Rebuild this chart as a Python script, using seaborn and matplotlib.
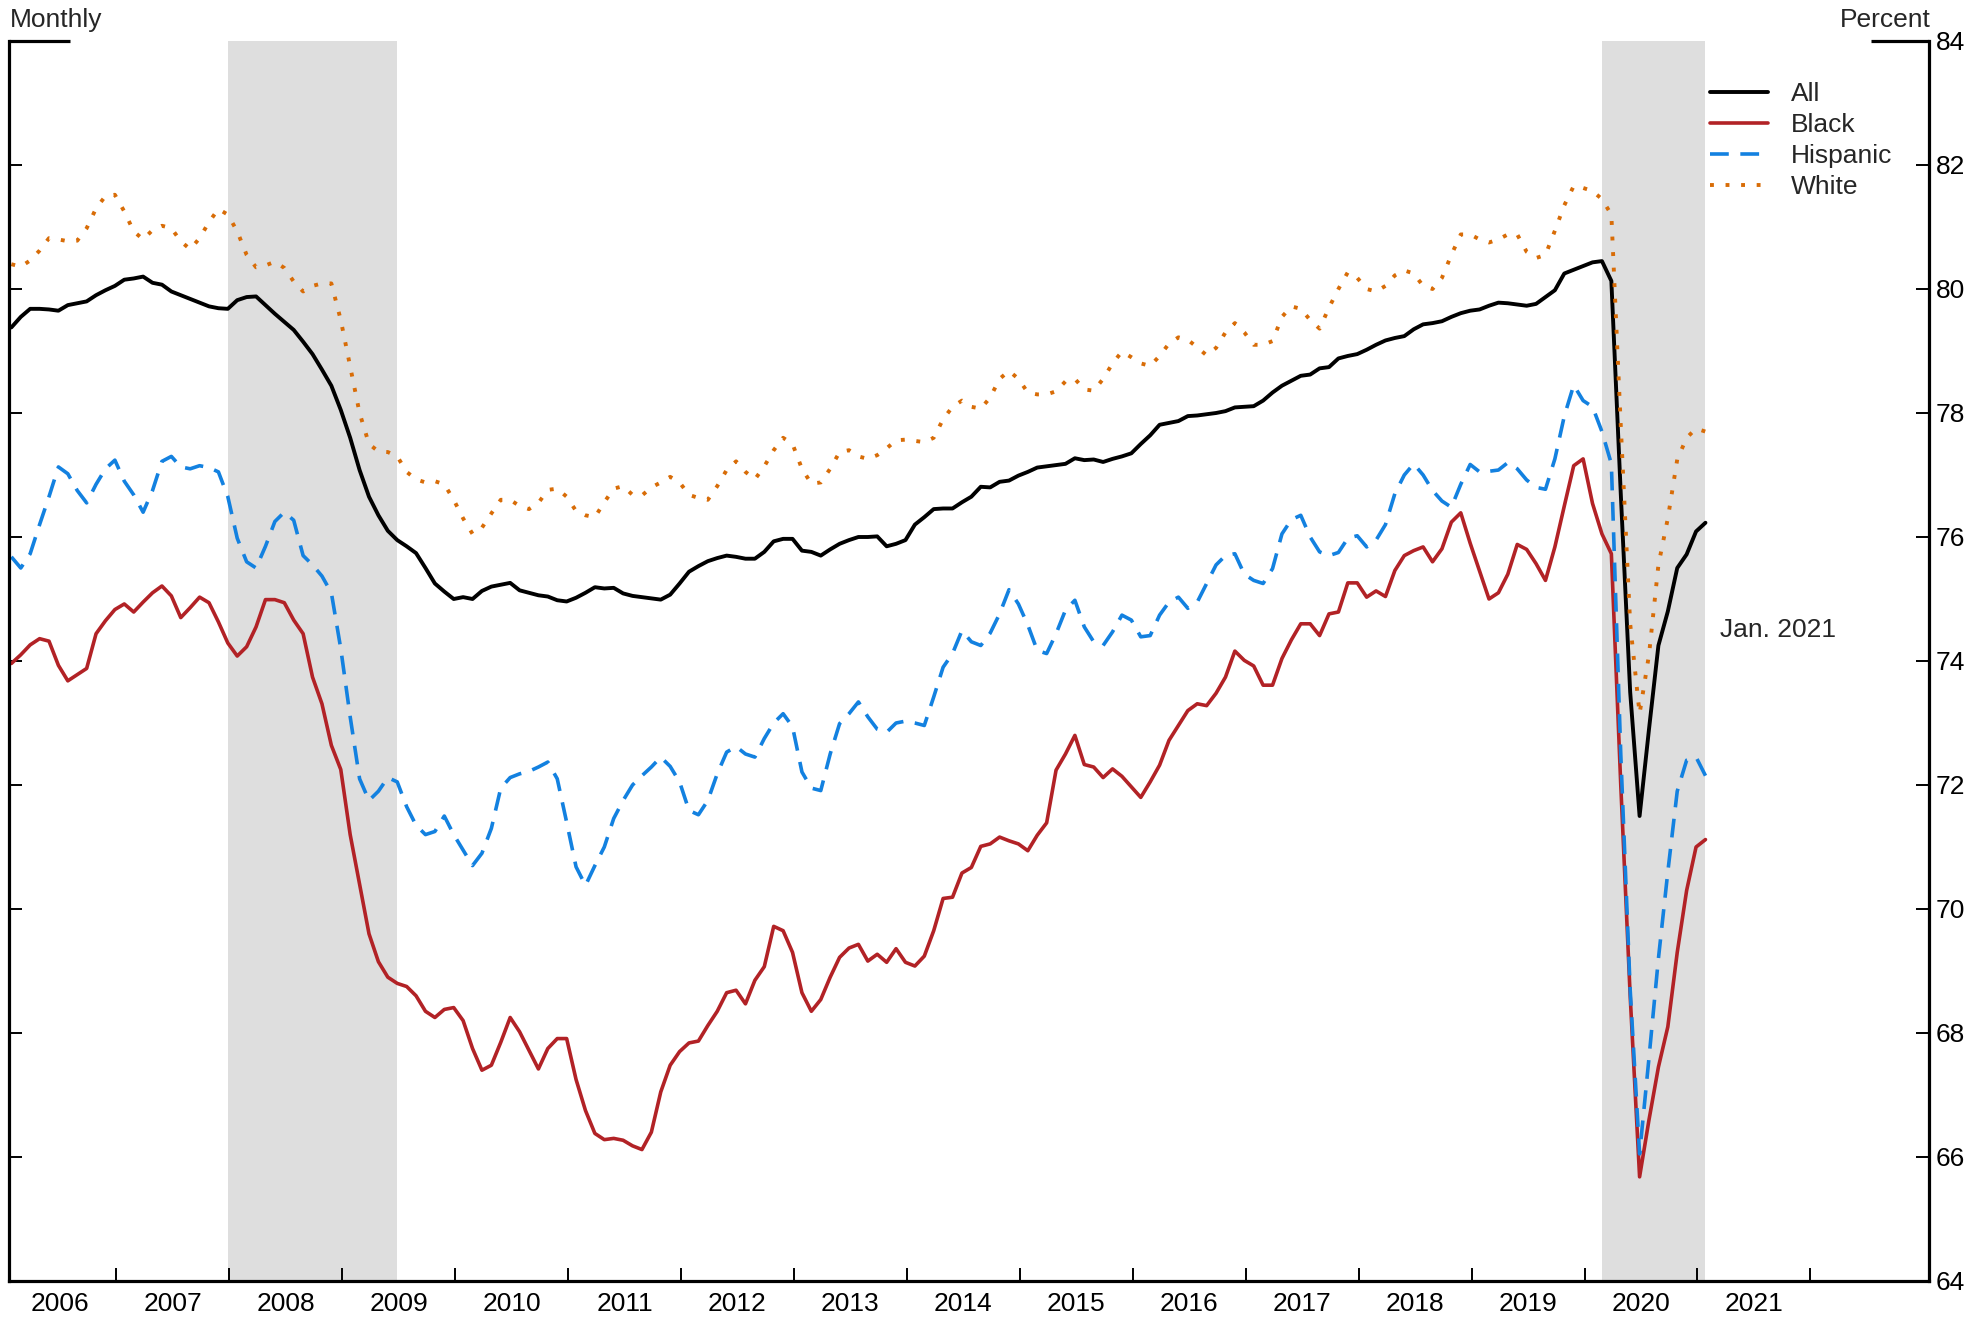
import pandas as pd
import seaborn as sns
import matplotlib.pyplot as plt

sns.set_theme(style="white")
plt.rcParams['font.family'] = ['Liberation Sans', 'DejaVu Sans']

# prime-age employment-to-population ratios, monthly, Jan 2006 - Jan 2021 (percent)
all_workers = [
    79.38, 79.55, 79.68, 79.68, 79.67, 79.65, 79.74, 79.77, 79.80, 79.90, 79.98, 80.05,  # 2006
    80.15, 80.17, 80.20, 80.10, 80.07, 79.96, 79.90, 79.84, 79.78, 79.72, 79.69, 79.68,  # 2007
    79.82, 79.87, 79.88, 79.74, 79.60, 79.47, 79.34, 79.15, 78.95, 78.70, 78.44, 78.05,  # 2008
    77.60, 77.08, 76.65, 76.35, 76.10, 75.95, 75.85, 75.74, 75.50, 75.25, 75.12, 75.00,  # 2009
    75.03, 75.00, 75.13, 75.20, 75.23, 75.26, 75.14, 75.10, 75.06, 75.04, 74.98, 74.96,  # 2010
    75.02, 75.10, 75.19, 75.17, 75.18, 75.09, 75.05, 75.03, 75.01, 74.99, 75.07, 75.25,  # 2011
    75.44, 75.53, 75.61, 75.66, 75.70, 75.68, 75.65, 75.65, 75.76, 75.93, 75.97, 75.97,  # 2012
    75.78, 75.76, 75.70, 75.80, 75.89, 75.95, 76.00, 76.00, 76.01, 75.85, 75.89, 75.95,  # 2013
    76.20, 76.32, 76.45, 76.46, 76.46, 76.56, 76.65, 76.81, 76.80, 76.89, 76.91, 76.99,  # 2014
    77.05, 77.12, 77.14, 77.16, 77.18, 77.27, 77.24, 77.25, 77.21, 77.26, 77.30, 77.35,  # 2015
    77.50, 77.64, 77.81, 77.84, 77.87, 77.95, 77.96, 77.98, 78.00, 78.03, 78.09, 78.10,  # 2016
    78.11, 78.20, 78.33, 78.44, 78.52, 78.60, 78.62, 78.72, 78.74, 78.88, 78.92, 78.95,  # 2017
    79.02, 79.10, 79.17, 79.21, 79.24, 79.35, 79.43, 79.45, 79.48, 79.55, 79.61, 79.65,  # 2018
    79.67, 79.73, 79.78, 79.77, 79.75, 79.73, 79.76, 79.87, 79.98, 80.25, 80.31, 80.37,  # 2019
    80.43, 80.45, 80.13, 76.70, 73.50, 71.50, 72.90, 74.25, 74.80, 75.50, 75.72, 76.09,  # 2020
    76.23,
]
black = [
    73.96, 74.10, 74.26, 74.36, 74.32, 73.93, 73.68, 73.78, 73.88, 74.44, 74.65, 74.83,
    74.92, 74.79, 74.95, 75.10, 75.21, 75.05, 74.70, 74.86, 75.03, 74.94, 74.63, 74.29,
    74.08, 74.23, 74.55, 74.99, 74.99, 74.94, 74.66, 74.44, 73.74, 73.31, 72.64, 72.25,
    71.20, 70.40, 69.60, 69.15, 68.90, 68.80, 68.75, 68.60, 68.35, 68.25, 68.38, 68.41,
    68.20, 67.75, 67.40, 67.48, 67.85, 68.25, 68.02, 67.72, 67.42, 67.75, 67.91, 67.91,
    67.25, 66.75, 66.38, 66.28, 66.30, 66.27, 66.18, 66.12, 66.40, 67.05, 67.48, 67.70,
    67.84, 67.87, 68.12, 68.35, 68.65, 68.69, 68.47, 68.85, 69.07, 69.72, 69.65, 69.30,
    68.65, 68.35, 68.54, 68.90, 69.22, 69.37, 69.43, 69.16, 69.27, 69.14, 69.36, 69.14,
    69.08, 69.24, 69.65, 70.17, 70.19, 70.58, 70.67, 71.01, 71.05, 71.16, 71.10, 71.05,
    70.94, 71.19, 71.39, 72.24, 72.50, 72.80, 72.33, 72.29, 72.12, 72.26, 72.14, 71.97,
    71.80, 72.05, 72.32, 72.72, 72.96, 73.20, 73.31, 73.28, 73.48, 73.74, 74.16, 74.01,
    73.92, 73.61, 73.61, 74.04, 74.34, 74.60, 74.60, 74.41, 74.76, 74.79, 75.26, 75.26,
    75.03, 75.13, 75.04, 75.46, 75.70, 75.78, 75.84, 75.60, 75.81, 76.24, 76.39, 75.90,
    75.45, 75.00, 75.10, 75.40, 75.88, 75.80, 75.57, 75.30, 75.84, 76.50, 77.15, 77.26,
    76.54, 76.05, 75.73, 72.00, 68.60, 65.68, 66.60, 67.45, 68.10, 69.30, 70.30, 71.00,
    71.12,
]
hispanic = [
    75.68, 75.50, 75.73, 76.20, 76.65, 77.13, 77.02, 76.75, 76.55, 76.85, 77.10, 77.24,
    76.90, 76.68, 76.40, 76.75, 77.22, 77.30, 77.13, 77.10, 77.15, 77.12, 77.05, 76.65,
    75.98, 75.60, 75.50, 75.85, 76.25, 76.40, 76.27, 75.70, 75.55, 75.37, 75.10, 74.20,
    73.10, 72.10, 71.75, 71.90, 72.12, 72.05, 71.65, 71.35, 71.20, 71.25, 71.50, 71.20,
    70.95, 70.70, 70.90, 71.30, 71.95, 72.12, 72.18, 72.22, 72.29, 72.37, 72.10, 71.40,
    70.68, 70.38, 70.70, 71.00, 71.46, 71.75, 72.00, 72.15, 72.29, 72.45, 72.30, 72.05,
    71.59, 71.52, 71.75, 72.18, 72.53, 72.62, 72.50, 72.45, 72.75, 73.00, 73.15, 72.94,
    72.21, 71.95, 71.91, 72.50, 72.99, 73.15, 73.34, 73.10, 72.90, 72.85, 73.00, 73.03,
    73.00, 72.96, 73.42, 73.90, 74.12, 74.49, 74.31, 74.25, 74.45, 74.76, 75.15, 74.92,
    74.58, 74.17, 74.12, 74.44, 74.82, 74.98, 74.55, 74.31, 74.25, 74.47, 74.74, 74.66,
    74.39, 74.41, 74.74, 74.95, 75.03, 74.85, 74.95, 75.25, 75.55, 75.70, 75.73, 75.40,
    75.30, 75.25, 75.49, 76.05, 76.28, 76.35, 76.00, 75.76, 75.70, 75.75, 75.98, 76.02,
    75.84, 75.95, 76.20, 76.70, 77.00, 77.18, 77.00, 76.75, 76.58, 76.48, 76.85, 77.17,
    77.05, 77.06, 77.08, 77.20, 77.10, 76.92, 76.80, 76.77, 77.26, 77.95, 78.45, 78.20,
    78.10, 77.70, 77.18, 72.50, 68.70, 66.05, 67.60, 69.20, 70.60, 71.90, 72.40, 72.45,
    72.15,
]
white = [
    80.40, 80.36, 80.46, 80.62, 80.82, 80.80, 80.77, 80.78, 80.98, 81.30, 81.50, 81.52,
    81.25, 80.93, 80.80, 80.95, 81.02, 80.98, 80.77, 80.64, 80.82, 81.08, 81.29, 81.20,
    80.93, 80.55, 80.35, 80.38, 80.44, 80.34, 80.12, 79.96, 80.05, 80.09, 80.09, 79.50,
    78.75, 78.00, 77.50, 77.38, 77.37, 77.30, 77.05, 76.93, 76.88, 76.90, 76.85, 76.60,
    76.30, 76.05, 76.15, 76.38, 76.60, 76.60, 76.50, 76.45, 76.55, 76.76, 76.78, 76.65,
    76.42, 76.35, 76.32, 76.56, 76.78, 76.82, 76.68, 76.67, 76.80, 76.88, 76.97, 76.88,
    76.68, 76.63, 76.60, 76.82, 77.08, 77.22, 77.05, 76.93, 77.14, 77.40, 77.60, 77.50,
    77.10, 76.86, 76.88, 77.10, 77.37, 77.40, 77.30, 77.26, 77.32, 77.43, 77.56, 77.57,
    77.55, 77.53, 77.60, 77.90, 78.10, 78.20, 78.10, 78.07, 78.25, 78.55, 78.68, 78.55,
    78.33, 78.30, 78.30, 78.35, 78.51, 78.55, 78.38, 78.36, 78.55, 78.80, 78.99, 78.90,
    78.80, 78.76, 78.92, 79.12, 79.22, 79.18, 79.06, 78.93, 79.05, 79.30, 79.45, 79.30,
    79.10, 79.10, 79.16, 79.55, 79.72, 79.68, 79.50, 79.36, 79.70, 80.00, 80.27, 80.18,
    80.00, 79.96, 80.05, 80.22, 80.30, 80.25, 80.05, 80.00, 80.18, 80.55, 80.88, 80.88,
    80.80, 80.75, 80.80, 80.88, 80.88, 80.60, 80.50, 80.55, 80.94, 81.35, 81.66, 81.63,
    81.58, 81.45, 81.20, 77.80, 74.60, 73.15, 74.10, 75.55, 76.30, 77.25, 77.60, 77.75,
    77.70,
]

years = list(range(2006, 2022))
y_ticks = list(range(64, 85, 2))

months = pd.date_range("2006-01-01", periods=len(all_workers), freq="MS")
xpos = months.year + (months.month - 1 + 0.25) / 12
df = pd.DataFrame({"x": xpos, "All": all_workers, "Black": black,
                   "Hispanic": hispanic, "White": white})

# NBER recessions: Dec 2007 - Jun 2009, Feb 2020 - end of data
recessions = [(xpos[23], xpos[41]), (xpos[169], xpos[-1])]

fig = plt.figure(figsize=(19.88, 13.17), dpi=100)
ax = fig.add_axes([9 / 1988, 36 / 1317, 1920 / 1988, 1240 / 1317])

for a, b in recessions:
    ax.axvspan(a, b, color="#dedede", lw=0, zorder=0)

styles = {
    "All": dict(color="black", linewidth=2.8, linestyle="-"),
    "Black": dict(color="#b22226", linewidth=2.6, linestyle="-"),
    "Hispanic": dict(color="#1381e0", linewidth=2.6, linestyle=(0, (5.2, 3.2)), dash_capstyle="butt"),
    "White": dict(color="#d86c07", linewidth=2.8, linestyle=(0, (1.0, 3.0)), dash_capstyle="butt"),
}
for name in ["All", "Black", "Hispanic", "White"]:
    sns.lineplot(data=df, x="x", y=name, ax=ax, label=name, **styles[name])

ax.set_xlim(2006, 2023)
ax.set_ylim(64, 84)
ax.set_xlabel("")
ax.set_ylabel("")

# year boundaries as ticks, labels centered in each year
ax.set_xticks([y - 0.05 for y in range(2007, 2023)])
ax.set_xticklabels([])
ax.set_xticks([y + 0.45 for y in years], minor=True)
ax.set_xticklabels([str(y) for y in years], minor=True)
ax.tick_params(axis="x", which="major", direction="in", bottom=True, length=9.4, width=1.4, color="black")
ax.tick_params(axis="x", which="minor", bottom=True, length=0, labelsize=19, pad=8, labelcolor="black")

ax.set_yticks(y_ticks)
ax.tick_params(axis="y", direction="in", left=True, right=True, labelleft=False, labelright=True,
               length=9.4, width=1.4, color="black", labelsize=19, pad=5, labelcolor="black")

ax.spines["top"].set_visible(False)
for side in ["left", "right", "bottom"]:
    ax.spines[side].set_color("black")
    ax.spines[side].set_linewidth(2.3)

# short top brackets under the unit labels
ax.plot([0, 0.032], [1, 1], transform=ax.transAxes, color="black", lw=2.3,
        clip_on=False, solid_capstyle="butt")
ax.plot([0.970, 1], [1, 1], transform=ax.transAxes, color="black", lw=2.3,
        clip_on=False, solid_capstyle="butt")

fig.text(10 / 1988, 1 - 20 / 1317, "Monthly", ha="left", va="center", fontsize=19)
fig.text(1931 / 1988, 1 - 20 / 1317, "Percent", ha="right", va="center", fontsize=19)

ax.text(2021.15, 74.5, "Jan. 2021", ha="left", va="center", fontsize=19)

ax.legend(loc="upper left", bbox_to_anchor=(0.886, 0.967), frameon=False, fontsize=19,
          handlelength=2.2, handletextpad=0.85, labelspacing=0.27, borderpad=0, borderaxespad=0)

fig.savefig("out.png", dpi=100)
